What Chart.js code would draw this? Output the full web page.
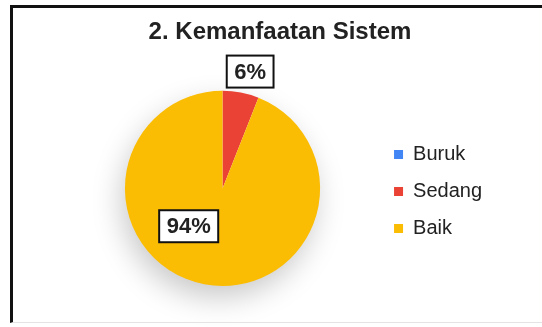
<!DOCTYPE html>
<html>
<head>
<meta charset="utf-8">
<script src="https://cdn.jsdelivr.net/npm/chart.js@4/dist/chart.umd.min.js"></script>
<style>
  html, body { margin: 0; padding: 0; background: #fff; }
  #wrap { position: relative; width: 542px; height: 327px; overflow: hidden; }
  #kemanfaatan { position: absolute; left: 0; top: 0; }
  #frame {
    position: absolute; left: 10px; top: 5px; right: 0; height: 318px;
    box-sizing: border-box;
    border-top: 3px solid #111;
    border-left: 3px solid #111;
    border-bottom: 1px solid #e4e4e4;
    pointer-events: none;
  }
</style>
</head>
<body>
<div id="wrap">
  <canvas id="kemanfaatan" width="542" height="327"></canvas>
  <div id="frame"></div>
</div>
<script>
const categories = ["Buruk", "Sedang", "Baik"]
const percentages = [0, 6, 94]
const sliceColors = ["#4285F4", "#EA4335", "#FBBC04"]

// where each percent box sits: distance as a share of the radius, extra turn in degrees
const labelPlacement = [
  { dist: 1.23, turn: 0 },
  { dist: 1.23, turn: 2.5 },
  { dist: 0.52, turn: 31 },
]

const FONT = "'Liberation Sans', Arial, sans-serif"

const pieShadow = {
  id: "pieShadow",
  beforeDatasetsDraw(chart) {
    const arc = chart.getDatasetMeta(0).data[0]
    if (!arc) return
    const { x, y, outerRadius } = arc.getProps(["x", "y", "outerRadius"], true)
    const ctx = chart.ctx
    ctx.save()
    ctx.shadowColor = "rgba(0,0,0,0.22)"
    ctx.shadowBlur = 30
    ctx.shadowOffsetX = -4
    ctx.shadowOffsetY = 12
    ctx.fillStyle = "#fff"
    ctx.beginPath()
    ctx.arc(x, y, outerRadius - 1, 0, Math.PI * 2)
    ctx.fill()
    ctx.restore()
  },
}

const percentBoxes = {
  id: "percentBoxes",
  afterDatasetsDraw(chart) {
    const ctx = chart.ctx
    const meta = chart.getDatasetMeta(0)
    ctx.save()
    ctx.font = "bold 22px " + FONT
    ctx.textAlign = "center"
    ctx.textBaseline = "middle"
    meta.data.forEach((arc, i) => {
      const value = percentages[i]
      if (!value) return
      const p = arc.getProps(["x", "y", "startAngle", "endAngle", "outerRadius"], true)
      const place = labelPlacement[i]
      const mid = (p.startAngle + p.endAngle) / 2 + place.turn * Math.PI / 180
      const cx = p.x + Math.cos(mid) * p.outerRadius * place.dist
      const cy = p.y + Math.sin(mid) * p.outerRadius * place.dist
      const text = value + "%"
      const w = ctx.measureText(text).width + 15
      const h = 32
      ctx.fillStyle = "#fff"
      ctx.fillRect(cx - w / 2, cy - h / 2, w, h)
      ctx.lineWidth = 2
      ctx.strokeStyle = "#111"
      ctx.strokeRect(cx - w / 2, cy - h / 2, w, h)
      ctx.fillStyle = "#222"
      ctx.fillText(text, cx, cy + 1)
    })
    ctx.restore()
  },
}

new Chart(document.getElementById("kemanfaatan"), {
  type: "pie",
  data: {
    labels: categories,
    datasets: [{
      data: percentages,
      backgroundColor: sliceColors,
      borderWidth: 0,
    }],
  },
  options: {
    responsive: false,
    animation: false,
    layout: {
      padding: { left: 68, right: 50, top: 0, bottom: 41 },
    },
    plugins: {
      title: {
        display: true,
        text: "2. Kemanfaatan Sistem",
        color: "#222",
        font: { family: FONT, size: 24, weight: "bold" },
        padding: { top: 18, bottom: 44 },
      },
      legend: {
        position: "right",
        fullSize: false,
        title: { display: true, text: "", font: { size: 5 }, padding: 0 },
        labels: {
          color: "#222",
          boxWidth: 9,
          boxHeight: 9,
          padding: 17,
          font: { family: FONT, size: 20 },
        },
      },
      tooltip: { enabled: false },
    },
  },
  plugins: [pieShadow, percentBoxes],
})
</script>
</body>
</html>
